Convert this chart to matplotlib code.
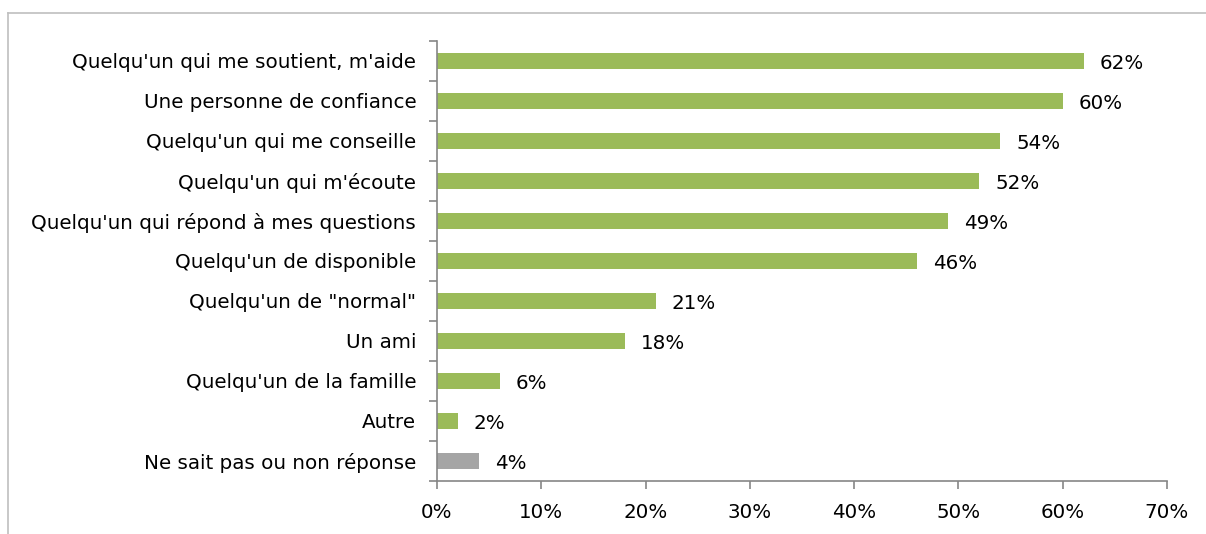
import matplotlib
matplotlib.use("Agg")
import matplotlib.pyplot as plt
from matplotlib.lines import Line2D

CATEGORIES = [
    "Quelqu'un qui me soutient, m'aide",
    "Une personne de confiance",
    "Quelqu'un qui me conseille",
    "Quelqu'un qui m'écoute",
    "Quelqu'un qui répond à mes questions",
    "Quelqu'un de disponible",
    "Quelqu'un de \"normal\"",
    "Un ami",
    "Quelqu'un de la famille",
    "Autre",
    "Ne sait pas ou non réponse",
]
VALUES = [62, 60, 54, 52, 49, 46, 21, 18, 6, 2, 4]
COLORS = ["#9BBB59"] * 10 + ["#A5A5A5"]
X_TICKS = [0, 10, 20, 30, 40, 50, 60, 70]

FS = 14.3
plt.rcParams["font.family"] = ["DejaVu Sans"]

fig = plt.figure(figsize=(12.06, 5.34), dpi=100)
ax = fig.add_axes([437 / 1206, 1 - 481 / 534, 730 / 1206, 440 / 534])

# cadre du graphique (seulement haut et gauche visibles)
fig.add_artist(Line2D([8 / 1206, 1], [1 - 13 / 534, 1 - 13 / 534], color="#BFBFBF", lw=1.2))
fig.add_artist(Line2D([8 / 1206, 8 / 1206], [0, 1 - 13 / 534], color="#BFBFBF", lw=1.2))

pos = list(range(len(CATEGORIES)))
ax.barh(pos, VALUES, height=0.4, color=COLORS)

for p, v in zip(pos, VALUES):
    ax.annotate(f"{v}%", (v, p), xytext=(11.5, -1.5), textcoords="offset points",
                ha="left", va="center", fontsize=FS)

ax.set_ylim(len(CATEGORIES) - 0.5, -0.5)
ax.set_xlim(0, 70)
ax.set_xticks(X_TICKS)
ax.set_xticklabels([f"{t}%" for t in X_TICKS], fontsize=FS)
ax.set_yticks(pos)
ax.set_yticklabels(CATEGORIES, fontsize=FS)
ax.tick_params(axis="y", length=0, pad=15)
ax.set_yticks([p - 0.5 for p in pos] + [len(pos) - 0.5], minor=True)
ax.tick_params(axis="y", which="minor", length=6, color="#868686", width=1.2)
ax.tick_params(axis="x", length=6, color="#868686", width=1.2, pad=10)

for s in ["top", "right"]:
    ax.spines[s].set_visible(False)
for s in ["left", "bottom"]:
    ax.spines[s].set_color("#868686")
    ax.spines[s].set_linewidth(1.2)

fig.savefig("out.png", dpi=100)
